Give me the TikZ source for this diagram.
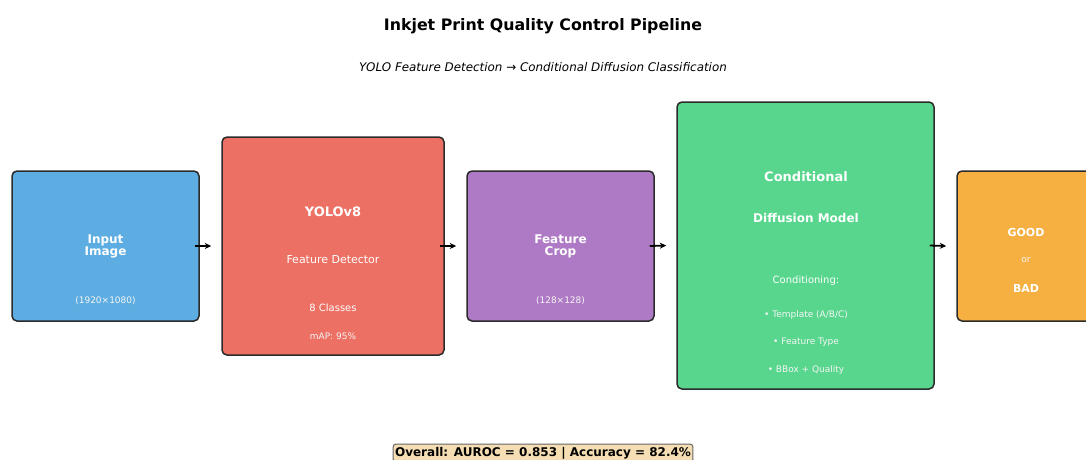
\documentclass[tikz,border=0pt]{standalone}
\usepackage{fontspec}
\setmainfont{DejaVu Sans}
\usetikzlibrary{calc,arrows.meta}
\definecolor{cin}{HTML}{5DADE2}
\definecolor{cyolo}{HTML}{EC7063}
\definecolor{ccrop}{HTML}{AF7AC5}
\definecolor{cdiff}{HTML}{58D68D}
\definecolor{cout}{HTML}{F5B041}
\definecolor{edge}{HTML}{2B2B2B}
\definecolor{wheatbg}{HTML}{F5DEB3}
\tikzset{
  stage/.style={draw=edge, line width=1.5pt, rounded corners=5pt, inner sep=0pt},
  flow/.style={-{Stealth[length=6.5pt,width=6pt]}, line width=1.8pt, black},
  lbl/.style={text=white, inner sep=0pt, align=center},
  head/.style={lbl, font=\bfseries\fontsize{13}{15}\selectfont},
  sub/.style={lbl, font=\fontsize{11}{13}\selectfont},
  small/.style={lbl, text=white!92!gray, font=\fontsize{9}{11}\selectfont},
}
\begin{document}
\begin{tikzpicture}[x=1pt,y=-1pt]
\useasboundingbox (0,0) rectangle (1086,459);
\clip (0,0) rectangle (1086,459);

% titles
\node[inner sep=0pt, font=\bfseries\fontsize{15.8}{18}\selectfont] (title) at (543,26) {Inkjet Print Quality Control Pipeline};
\node[inner sep=0pt, font=\itshape\fontsize{11.9}{14}\selectfont] (subtitle) at (543,67) {YOLO Feature Detection → Conditional Diffusion Classification};

% pipeline stages
\node[stage, fill=cin,   minimum width=187pt, minimum height=150pt] (input) at (105.5,246) {};
\node[stage, fill=cyolo, minimum width=222pt, minimum height=218pt] (yolo)  at (333,246) {};
\node[stage, fill=ccrop, minimum width=187pt, minimum height=150pt] (crop)  at (560.5,246) {};
\node[stage, fill=cdiff, minimum width=257pt, minimum height=287pt] (diff)  at (805.5,245.5) {};
\node[stage, fill=cout,  minimum width=187pt, minimum height=150pt] (out)   at (1050.5,246) {};

% input image
\node[head, font=\bfseries\fontsize{12}{12}\selectfont] (inT) at (105.5,246.5) {Input\\Image};
\node[small] (inS) at (105.5,301) {(1920×1080)};

% detector
\node[head] (yoT) at (333,212) {YOLOv8};
\node[sub] (yoS) at (333,260) {Feature Detector};
\node[lbl, font=\fontsize{10}{12}\selectfont] (yoC) at (333,308) {8 Classes};
\node[small] (yoM) at (333,336) {mAP: 95\%};

% crop
\node[head, font=\bfseries\fontsize{12}{12}\selectfont] (crT) at (560.5,246.5) {Feature\\Crop};
\node[small] (crS) at (560.5,301) {(128×128)};

% diffusion model
\node[head] (dfT) at (806,177) {Conditional};
\node[head, font=\bfseries\fontsize{12}{14}\selectfont] (dfT2) at (806,218) {Diffusion Model};
\node[lbl, font=\fontsize{10}{12}\selectfont] (dfC) at (806,281) {Conditioning:};
\node[small] (dfA) at (806,315) {• Template (A/B/C)};
\node[small] (dfB) at (806,342) {• Feature Type};
\node[small] (dfD) at (806,370) {• BBox + Quality};

% verdict
\node[lbl, font=\bfseries\fontsize{11}{13}\selectfont] (good) at (1026,232) {GOOD};
\node[small] (or) at (1026,260) {or};
\node[lbl, font=\bfseries\fontsize{11}{13}\selectfont] (bad) at (1026,288) {BAD};

% connectors
\draw[flow] ($(input.east)+(-5,0)$) -- ($(yolo.west)+(-10,0)$);
\draw[flow] ($(yolo.east)+(-5,0)$) -- ($(crop.west)+(-10,0)$);
\draw[flow] ($(crop.east)+(-5,0)$) -- ($(diff.west)+(-10,0)$);
\draw[flow] ($(diff.east)+(-5,0)$) -- ($(out.west)+(-10,0)$);

% summary
\node[draw=gray!80!black, fill=wheatbg, line width=1pt, rounded corners=3pt, inner xsep=2pt, inner ysep=3pt, font=\bfseries\fontsize{12}{14}\selectfont] (summary) at (543,453) {Overall: AUROC = 0.853 | Accuracy = 82.4\%};
\end{tikzpicture}
\end{document}
